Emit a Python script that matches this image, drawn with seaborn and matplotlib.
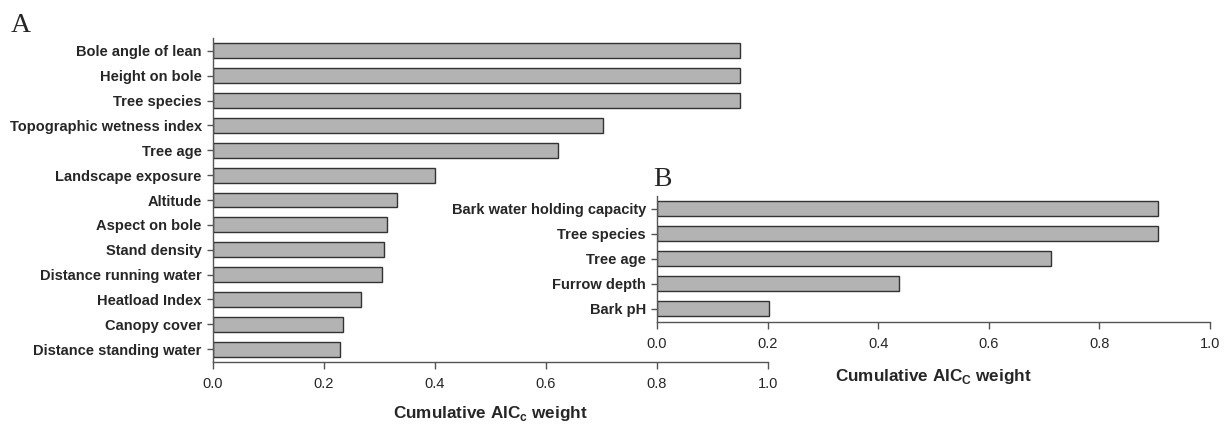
"""
Cumulative AICc weight of predictors, two panels (A: site/tree variables, B: bark variables).
"""
import matplotlib
matplotlib.use('Agg')
import matplotlib.pyplot as plt
import seaborn as sns
import pandas as pd

sns.set_style('white')
plt.rcParams['font.family'] = ['Liberation Sans', 'DejaVu Sans']
plt.rcParams['mathtext.fontset'] = 'custom'
plt.rcParams['mathtext.rm'] = 'Liberation Sans'
plt.rcParams['mathtext.bf'] = 'Liberation Sans:bold'

# panel A
vars_a = ['Bole angle of lean', 'Height on bole', 'Tree species',
          'Topographic wetness index', 'Tree age', 'Landscape exposure',
          'Altitude', 'Aspect on bole', 'Stand density',
          'Distance running water', 'Heatload Index', 'Canopy cover',
          'Distance standing water']
weight_a = [0.95, 0.95, 0.95, 0.703, 0.621, 0.40, 0.331, 0.313, 0.308,
            0.304, 0.266, 0.234, 0.229]

# panel B
vars_b = ['Bark water holding capacity', 'Tree species', 'Tree age',
          'Furrow depth', 'Bark pH']
weight_b = [0.905, 0.905, 0.713, 0.438, 0.202]

xticks = [0.0, 0.2, 0.4, 0.6, 0.8, 1.0]

BAR = '#b3b3b3'
EDGE = '#333333'
SPINE = '#555555'


def draw_panel(ax, names, values, xlabel, labelpad):
    df = pd.DataFrame({'name': names, 'weight': values})
    sns.barplot(data=df, y='name', x='weight', orient='h', color=BAR,
                edgecolor=EDGE, linewidth=1.0, width=0.6, saturation=1, ax=ax)
    ax.set_facecolor('none')
    ax.set_xlim(0, 1.0)
    ax.set_ylim(len(names) - 0.48, -0.52)
    ax.set_xticks(xticks)
    ax.set_xticklabels([f'{t:.1f}' for t in xticks], fontsize=10.5)
    for lab in ax.get_yticklabels():
        lab.set_fontweight('bold')
        lab.set_fontsize(10.5)
    ax.set_ylabel('')
    ax.set_xlabel(xlabel, fontsize=12.3, fontweight='bold', labelpad=labelpad)
    for side in ['top', 'right']:
        ax.spines[side].set_visible(False)
    for side in ['left', 'bottom']:
        ax.spines[side].set_color(SPINE)
        ax.spines[side].set_linewidth(1.0)
    ax.tick_params(axis='y', left=True, length=4, width=1, color=SPINE, pad=4)
    ax.tick_params(axis='x', bottom=True, length=5, width=1, color=SPINE, pad=6)


fig = plt.figure(figsize=(12.26, 4.28), dpi=100)

ax_a = fig.add_axes([0.1737, 0.1542, 0.4527, 0.757])
draw_panel(ax_a, vars_a, weight_a, r'Cumulative AIC$_\mathbf{c}$ weight', 9)

ax_b = fig.add_axes([0.5359, 0.2477, 0.4511, 0.2944])
draw_panel(ax_b, vars_b, weight_b, r'Cumulative AIC$_\mathregular{C}$ weight', 11)

fig.text(0.009, 0.925, 'A', fontsize=20, family='Liberation Serif')
fig.text(0.533, 0.565, 'B', fontsize=20, family='Liberation Serif')

fig.savefig('out.png', dpi=100)
